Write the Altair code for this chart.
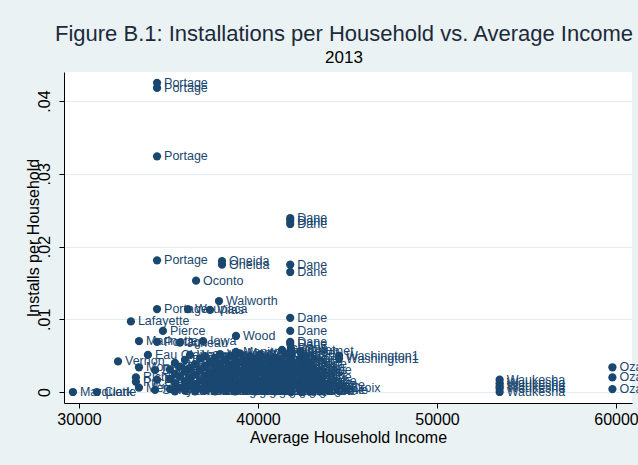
import altair as alt
import pandas as pd

# Labelled / outlying points
income = [34360, 34360, 34360, 34360, 34360,
          41800, 41800, 41800, 41800, 41800,
          37990, 37990, 36540, 37820, 36090, 37320,
          32900, 41800, 41800, 41800, 41800,
          34690, 33350, 34360, 35640, 36930, 38770,
          33850, 32180, 38770, 36200, 41340,
          44530, 44530, 43970, 29660, 31000,
          53500, 53500, 53500, 53500, 53500,
          59800, 59800, 59800,
          33350, 33180, 33180, 33350, 34250, 34360, 34250]
installs = [0.0425, 0.0418, 0.0324, 0.0181, 0.0114,
            0.0239, 0.0235, 0.0231, 0.0175, 0.0165,
            0.0180, 0.0175, 0.0153, 0.0125, 0.0114, 0.0113,
            0.0097, 0.0102, 0.0084, 0.0069, 0.0066,
            0.0084, 0.0070, 0.0069, 0.0068, 0.0070, 0.0077,
            0.0051, 0.0042, 0.0055, 0.0051, 0.0058,
            0.0050, 0.0046, 0.0005, 0.0000, 0.0000,
            0.0017, 0.0012, 0.0008, 0.0005, 0.0000,
            0.0034, 0.0020, 0.0004,
            0.0034, 0.0020, 0.0014, 0.0006, 0.0030, 0.0017, 0.0003]
county = ["Portage", "Portage", "Portage", "Portage", "Portage",
          "Dane", "Dane", "Dane", "Dane", "Dane",
          "Oneida", "Oneida", "Oconto", "Walworth", "Waupaca", "Vilas",
          "Lafayette", "Dane", "Dane", "Dane", "Dane",
          "Pierce", "Marinette", "Portage", "Juneau", "Iowa", "Wood",
          "Eau Claire", "Vernon", "Manitowoc", "Waushara", "Calumet",
          "Washington1", "Washington1", "St Croix", "Marquette", "Clark",
          "Waukesha", "Waukesha", "Waukesha", "Waukesha", "Waukesha",
          "Ozaukee", "Ozaukee", "Ozaukee",
          "Monroe", "Richland", "Price", "Menominee", "Douglas", "Rusk", "Sawyer"]

# Dense cluster, column by column
col_income = [35080, 35360, 35640, 35920, 36200, 36480, 36760, 37040, 37320,
              37600, 37880, 38160, 38440, 38720, 38990, 39270, 39550, 39830,
              40110, 40390, 40670, 40950, 41230, 41510, 41840, 42350, 42630,
              42910, 43180, 43460, 43910]
col_installs = [
    [0.0004, 0.0018, 0.0031],
    [0.0001, 0.0012, 0.0025, 0.0040],
    [0.0006, 0.0021, 0.0035],
    [0.0002, 0.0014, 0.0028, 0.0044],
    [0.0008, 0.0019, 0.0033],
    [0.0001, 0.0011, 0.0024, 0.0038],
    [0.0005, 0.0016, 0.0030, 0.0046],
    [0.0002, 0.0013, 0.0022, 0.0036, 0.0049],
    [0.0007, 0.0018, 0.0027, 0.0041],
    [0.0001, 0.0010, 0.0024, 0.0034, 0.0047],
    [0.0004, 0.0015, 0.0029, 0.0039, 0.0052],
    [0.0002, 0.0009, 0.0020, 0.0032, 0.0044],
    [0.0006, 0.0017, 0.0026, 0.0037, 0.0050],
    [0.0001, 0.0012, 0.0023, 0.0033, 0.0045],
    [0.0004, 0.0014, 0.0028, 0.0041, 0.0053],
    [0.0002, 0.0010, 0.0019, 0.0031, 0.0043],
    [0.0007, 0.0016, 0.0025, 0.0037, 0.0048],
    [0.0001, 0.0011, 0.0022, 0.0034, 0.0045],
    [0.0005, 0.0015, 0.0027, 0.0039, 0.0051],
    [0.0002, 0.0009, 0.0021, 0.0032, 0.0044],
    [0.0006, 0.0018, 0.0029, 0.0040],
    [0.0001, 0.0013, 0.0024, 0.0036, 0.0047],
    [0.0004, 0.0016, 0.0030, 0.0042],
    [0.0002, 0.0011, 0.0022, 0.0035, 0.0053],
    [0.0000, 0.0006, 0.0012, 0.0019, 0.0026, 0.0033, 0.0040, 0.0047, 0.0055, 0.0060],
    [0.0003, 0.0010, 0.0018, 0.0027, 0.0036, 0.0045, 0.0056],
    [0.0005, 0.0014, 0.0023, 0.0031, 0.0041, 0.0050],
    [0.0002, 0.0009, 0.0017, 0.0026, 0.0038],
    [0.0004, 0.0012, 0.0021, 0.0030],
    [0.0001, 0.0008, 0.0015],
    [0.0003, 0.0009],
]
col_county = [
    ["Adams", "Jackson", "Green Lake"],
    ["Crawford", "Buffalo", "Taylor", "Dodge"],
    ["Pepin", "Barron", "Polk"],
    ["Iron", "Burnett", "Shawano", "Door"],
    ["Forest", "Dunn", "Grant"],
    ["Florence", "Langlade", "Lincoln", "Kewaunee"],
    ["Bayfield", "Ashland", "Chippewa", "Waupaca"],
    ["Washburn", "Trempealeau", "Green", "Columbia", "Sauk"],
    ["La Crosse", "Rock", "Jefferson", "Marathon"],
    ["Outagamie", "Brown", "Winnebago", "Fond du Lac", "Sheboygan"],
    ["Racine", "Kenosha", "Milwaukee", "Dodge", "Waupaca"],
    ["Outagamie", "Brown", "Rock", "Grant", "Sauk"],
    ["Winnebago", "Columbia", "Green", "Jefferson", "Marathon"],
    ["Outagamie", "Sheboygan", "Fond du Lac", "Chippewa", "Shawano"],
    ["Brown", "Racine", "Kenosha", "Eau Claire", "Manitowoc"],
    ["Outagamie", "Rock", "Winnebago", "Dodge", "Jefferson"],
    ["Columbia", "Sauk", "Marathon", "La Crosse", "Brown"],
    ["Outagamie", "Sheboygan", "Fond du Lac", "Green", "Kewaunee"],
    ["Racine", "Rock", "Winnebago", "Dodge", "Calumet"],
    ["Outagamie", "Brown", "Jefferson", "Sauk", "Columbia"],
    ["Kenosha", "Marathon", "Sheboygan", "Brown"],
    ["Outagamie", "Fond du Lac", "Winnebago", "Rock", "Green"],
    ["Racine", "Dodge", "Jefferson", "Calumet"],
    ["Outagamie", "Brown", "Sauk", "Columbia", "Calumet"],
    ["Dane", "Dane", "Dane", "Dane", "Dane", "Dane", "Dane", "Dane", "Dane", "Dane"],
    ["Outagamie", "Dane", "Dane", "Dane", "Dane", "Dane", "Calumet"],
    ["Rock", "Dane", "Dane", "Dane", "Dane", "Dane"],
    ["Dane", "Dane", "Dane", "Dane", "Dane"],
    ["Dane", "Dane", "Dane", "Dane"],
    ["Dane", "Dane", "Dane"],
    ["Dane", "Dane"],
]

y_ticks = [0, 0.01, 0.02, 0.03, 0.04]
x_ticks = [30000, 40000, 50000, 60000]

rows = [dict(income=i, installs=v, county=c) for i, v, c in zip(income, installs, county)]
for xv, ys, names in zip(col_income, col_installs, col_county):
    for v, c in zip(ys, names):
        rows.append(dict(income=xv, installs=v, county=c))
df = pd.DataFrame(rows)

NAVY = "#1a476f"
BG = "#EAF2F3"
FONT = "Liberation Sans"

x_enc = alt.X(
    "income:Q",
    scale=alt.Scale(domain=[29162, 60894], nice=False, zero=False),
    axis=alt.Axis(values=x_ticks, format="d", title="Average Household Income",
                  grid=False, labelFontSize=16, titleFontSize=16, labelPadding=3,
                  titlePadding=2),
)
y_enc = alt.Y(
    "installs:Q",
    scale=alt.Scale(domain=[-0.001512, 0.04399], nice=False, zero=False),
    axis=alt.Axis(values=y_ticks, title="Installs per Household", grid=True,
                  gridColor="#e3ecee", gridWidth=1.2,
                  labelAngle=270, labelAlign="center", labelBaseline="bottom",
                  labelPadding=7, labelFontSize=16, titleFontSize=16,
                  labelExpr="datum.value == 0 ? '0' : replace(format(datum.value, '.2f'), '0.', '.')",
                  titleAngle=270, titleX=-31, titleY=165.5, titleAlign="center",
                  titleBaseline="middle"),
)

points = alt.Chart(df).mark_circle(size=68, color=NAVY, opacity=1).encode(x=x_enc, y=y_enc)
labels = alt.Chart(df).mark_text(
    align="left", baseline="middle", dx=7, fontSize=12.5, font=FONT, color=NAVY
).encode(x="income:Q", y="installs:Q", text="county:N")

chart = alt.layer(points, labels).properties(
    width=568,
    height=331,
    autosize=alt.AutoSizeParams(type="none"),
    padding={"left": 64, "top": 72, "right": 6, "bottom": 62},
    background=BG,
    title=alt.TitleParams(
        text="Figure B.1: Installations per Household vs. Average Income",
        subtitle="2013",
        font=FONT, subtitleFont=FONT,
        fontSize=22, subtitleFontSize=17,
        fontWeight="normal",
        color="#1c2a3a", subtitleColor="#000000",
        anchor="middle", offset=5, subtitlePadding=4, dx=-4,
    ),
).configure_view(stroke=None, fill="white").configure_axis(
    domainColor="#000000", tickColor="#000000", tickSize=5,
    labelColor="#000000", titleColor="#000000",
    labelFont=FONT, titleFont=FONT, titleFontWeight="normal",
)

chart.save("out.html", embed_options={"renderer": "svg", "actions": False})
